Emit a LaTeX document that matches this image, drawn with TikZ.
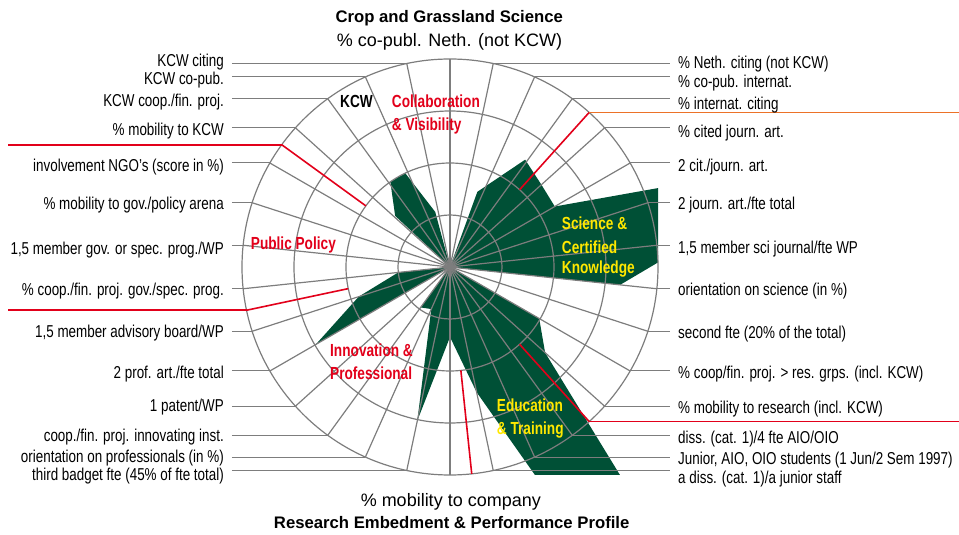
\documentclass[tikz,border=0pt]{standalone}
\usepackage{fontspec}
\setmainfont{Liberation Sans}
\newfontfamily\condfont{Liberation Sans}[FakeStretch=0.78]
\usetikzlibrary{positioning}

\definecolor{chartgreen}{RGB}{0,80,54}
\definecolor{gridgray}{RGB}{125,125,125}
\definecolor{sepred}{RGB}{226,0,26}
\definecolor{seporange}{RGB}{236,114,40}
\definecolor{catyellow}{RGB}{255,232,0}

\def\R{208}

\begin{document}
\begin{tikzpicture}[x=1pt, y=1pt,
        spoke/.style = {draw=gridgray, line width=1.2pt},
        lead/.style = {draw=gridgray, line width=1pt},
        sep/.style = {draw=sepred, line width=1.6pt},
        lbl/.style = {inner xsep=8pt, inner ysep=0pt, font=\condfont\fontsize{17.2}{20}\selectfont},
        cat/.style = {inner sep=0pt, anchor=base west, font=\condfont\bfseries\fontsize{17.5}{20}\selectfont},
        axis/.style = {inner sep=0pt, anchor=base, font=\fontsize{18}{20}\selectfont},
        head/.style = {inner sep=0pt, anchor=base, font=\bfseries\fontsize{16.7}{20}\selectfont}]

    \useasboundingbox (-450,-268) rectangle (509,267);

    % profile, cut off at the square round the outer ring
    \begin{scope}
        \clip (-\R,-\R) rectangle (\R,\R);
        \fill [chartgreen] (90:0) -- (78:0) -- (70:80) -- (55:131) -- (42:123) -- (30:121)
            -- (18:300) -- (6:245) -- (-6:171) -- (-18:0) -- (-30:103) -- (-42:128)
            -- (-54:460) -- (-66:260) -- (-78:128) -- (-90:70) -- (258:157) -- (246:46)
            -- (234:50) -- (222:0) -- (210:155) -- (198:96) -- (186:52) -- (174:0)
            -- (162:0) -- (150:0) -- (137:75) -- (125:104) -- (115.5:104) -- (105:57) -- cycle;
    \end{scope}

    % rings and spokes
    \foreach \r in {52,104,156,208}
        \draw [spoke] (0,0) circle (\r pt);
    \foreach \a in {-90,-78,...,258}
    {
        \coordinate (e\a) at (\a:\R);
        \draw [spoke] (0,0) -- (e\a);
    }

    % section borders
    \coordinate (edgeL) at (-442,0);
    \coordinate (edgeR) at (509,0);
    \foreach \a in {144,48,-48,192,276}
    {
        \coordinate (b\a) at (\a:104);
        \coordinate (s\a) at (\a:\R);
        \draw [sep] (b\a) -- (s\a);
    }
    \draw [sep] (s144) -- (s144 -| edgeL);
    \draw [sep] (s192) -- (s192 -| edgeL);
    \draw [sep] (s-48) -- (s-48 -| edgeR);
    \draw [sep, draw=seporange] (s48) -- (s48 -| edgeR);

    % axis labels, right side
    \node (l78) [lbl, anchor=base west] at (220,198.7) {\% Neth. citing (not KCW)};
    \node (l66) [lbl, anchor=base west] at (220,179.7) {\% co-pub. internat.};
    \node (l54) [lbl, anchor=base west] at (220,157.7) {\% internat. citing};
    \node (l42) [lbl, anchor=base west] at (220,129.7) {\% cited journ. art.};
    \node (l30) [lbl, anchor=base west] at (220,95.3) {2 cit./journ. art.};
    \node (l18) [lbl, anchor=base west] at (220,57) {2 journ. art./fte total};
    \node (l6) [lbl, anchor=base west] at (220,13.7) {1,5 member sci journal/fte WP};
    \node (l-6) [lbl, anchor=base west] at (220,-28.7) {orientation on science (in \%)};
    \node (l-18) [lbl, anchor=base west] at (220,-72) {second fte (20\% of the total)};
    \node (l-30) [lbl, anchor=base west] at (220,-111.3) {\% coop/fin. proj. > res. grps. (incl. KCW)};
    \node (l-42) [lbl, anchor=base west] at (220,-147) {\% mobility to research (incl. KCW)};
    \node (l-54) [lbl, anchor=base west] at (220,-176.3) {diss. (cat. 1)/4 fte AIO/OIO};
    \node (l-66) [lbl, anchor=base west] at (220,-197) {Junior, AIO, OIO students (1 Jun/2 Sem 1997)};
    \node (l-78) [lbl, anchor=base west] at (220,-217) {a diss. (cat. 1)/a junior staff};

    % axis labels, left side
    \node (l102) [lbl, anchor=base east] at (-218,200.3) {KCW citing};
    \node (l114) [lbl, anchor=base east] at (-218,182) {KCW co-pub.};
    \node (l126) [lbl, anchor=base east] at (-218,160.3) {KCW coop./fin. proj.};
    \node (l138) [lbl, anchor=base east] at (-218,131) {\% mobility to KCW};
    \node (l150) [lbl, anchor=base east] at (-218,95.3) {involvement NGO’s (score in \%)};
    \node (l162) [lbl, anchor=base east] at (-218,57.7) {\% mobility to gov./policy arena};
    \node (l174) [lbl, anchor=base east] at (-218,12) {1,5 member gov. or spec. prog./WP};
    \node (l186) [lbl, anchor=base east] at (-218,-28.7) {\% coop./fin. proj. gov./spec. prog.};
    \node (l198) [lbl, anchor=base east] at (-218,-70.7) {1,5 member advisory board/WP};
    \node (l210) [lbl, anchor=base east] at (-218,-111.3) {2 prof. art./fte total};
    \node (l222) [lbl, anchor=base east] at (-218,-144.7) {1 patent/WP};
    \node (l234) [lbl, anchor=base east] at (-218,-174.7) {coop./fin. proj. innovating inst.};
    \node (l246) [lbl, anchor=base east] at (-218,-195.3) {orientation on professionals (in \%)};
    \node (l258) [lbl, anchor=base east] at (-218,-214) {third badget fte (45\% of fte total)};

    % leaders from the outer ring to the labels
    \foreach \a in {78,66,...,-78}
        \draw [lead] (e\a) -- (e\a -| l\a.west);
    \foreach \a in {102,114,...,258}
        \draw [lead] (l\a.east |- e\a) -- (e\a);

    % top and bottom axes, titles
    \node (title) [head] at (-0.8,244.3) {Crop and Grassland Science};
    \node (l90) [axis] at (-0.5,220.3) {\% co-publ. Neth. (not KCW)};
    \node (l270) [axis] at (0.8,-239.7) {\% mobility to company};
    \node (footer) [head] at (1.7,-261.3) {Research Embedment \& Performance Profile};

    % section names
    \node (kcw) [cat] at (-110,159.7) {KCW};
    \node (collab1) [cat, text=sepred] at (-58.3,159.7) {Collaboration};
    \node (collab2) [cat, text=sepred] at (-58.3,136.3) {\& Visibility};
    \node (science1) [cat, text=catyellow] at (111.7,37) {Science \&};
    \node (science2) [cat, text=catyellow] at (111.7,13.7) {Certified};
    \node (science3) [cat, text=catyellow] at (111.7,-7) {Knowledge};
    \node (educ1) [cat, text=catyellow] at (46.7,-144.7) {Education};
    \node (educ2) [cat, text=catyellow] at (46.7,-167.3) {\& Training};
    \node (innov1) [cat, text=sepred] at (-120,-89.7) {Innovation \&};
    \node (innov2) [cat, text=sepred] at (-120,-112.3) {Professional};
    \node (policy) [cat, text=sepred] at (-199.3,17.7) {Public Policy};
\end{tikzpicture}
\end{document}
